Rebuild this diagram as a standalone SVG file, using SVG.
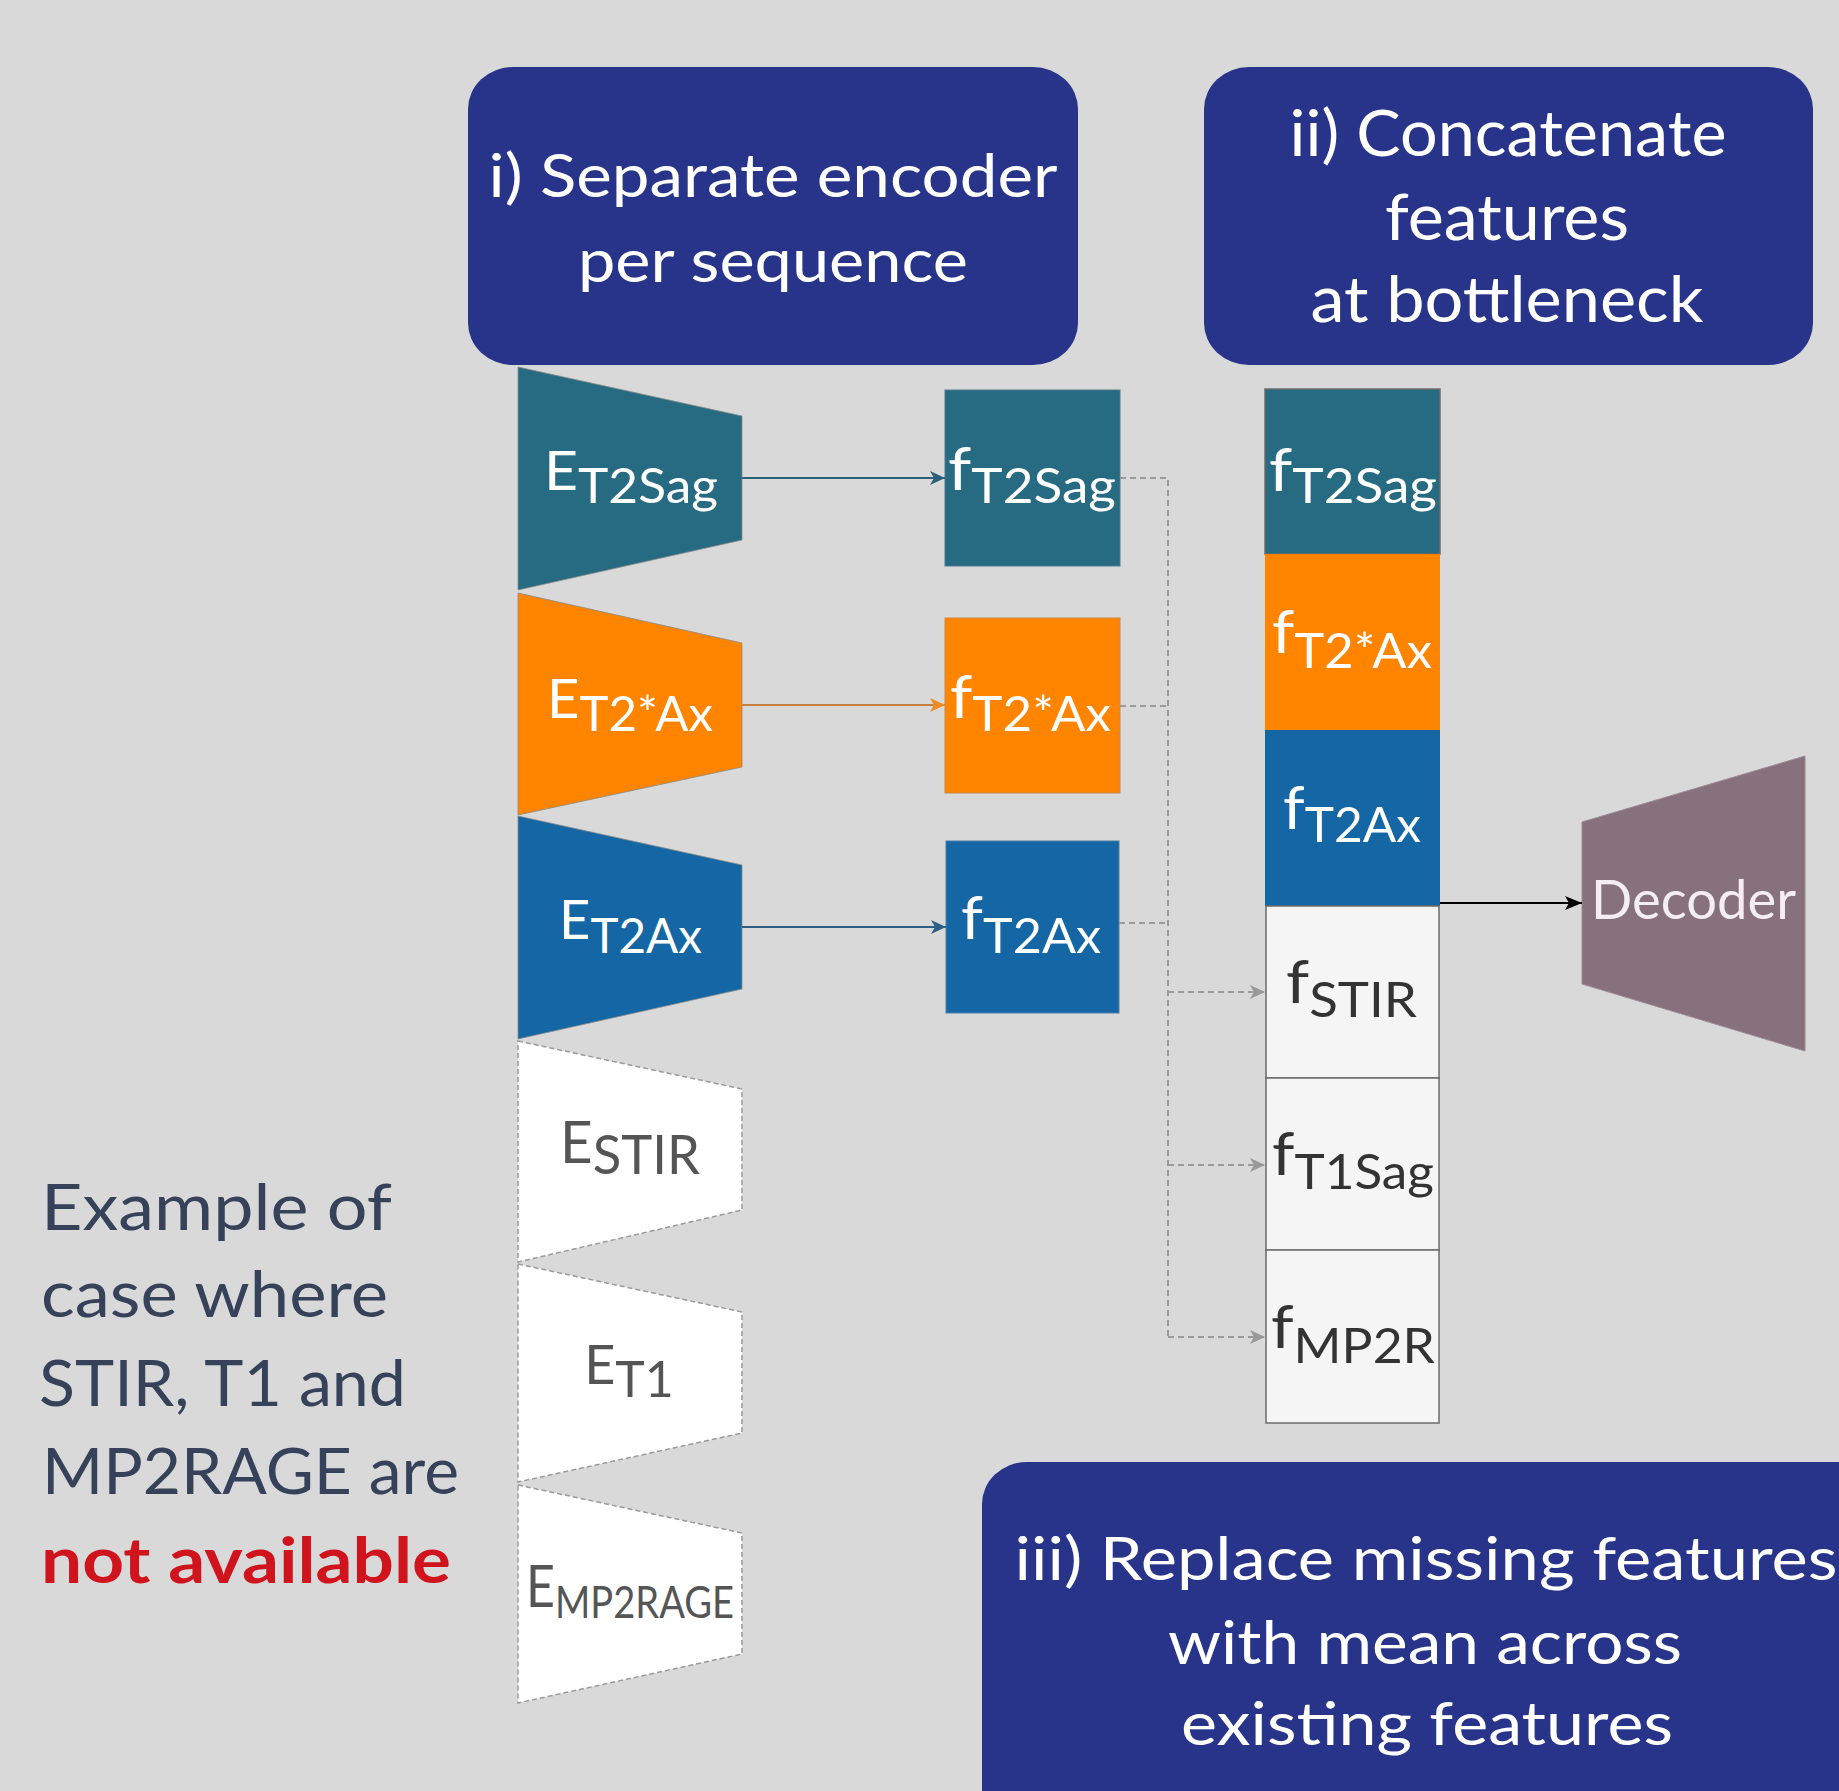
<svg xmlns="http://www.w3.org/2000/svg" width="1839" height="1791" viewBox="0 0 1839 1791">
<style>
.hdr{fill:#283489}
.ht{font-family:Lato,"Noto Sans",sans-serif;fill:#ffffff;text-anchor:middle}
.lbl{font-family:Lato,"Noto Sans",sans-serif;fill:#ffffff}
.lblg{font-family:Lato,"Noto Sans",sans-serif;fill:#555555}
.lbld{font-family:Lato,"Noto Sans",sans-serif;fill:#333333}
.side{font-family:Lato,"Noto Sans",sans-serif;fill:#36425A;font-size:64px}
.enc{stroke:#8a8a8a;stroke-width:0.8}
.miss{fill:#ffffff;stroke:#9a9a9a;stroke-width:1.5;stroke-dasharray:5 3}
.cell{stroke:#6b6b6b;stroke-width:1.5}
.dash{fill:none;stroke:#9a9a9a;stroke-width:2;stroke-dasharray:6 4}
</style>
<defs>
<marker id="aTeal" markerUnits="userSpaceOnUse" markerWidth="16" markerHeight="14" refX="15" refY="7" orient="auto"><path d="M0,0 L15,7 L0,14 L4,7 Z" fill="#2C5F78"/></marker>
<marker id="aOrange" markerUnits="userSpaceOnUse" markerWidth="16" markerHeight="14" refX="15" refY="7" orient="auto"><path d="M0,0 L15,7 L0,14 L4,7 Z" fill="#F08A20"/></marker>
<marker id="aBlue" markerUnits="userSpaceOnUse" markerWidth="16" markerHeight="14" refX="15" refY="7" orient="auto"><path d="M0,0 L15,7 L0,14 L4,7 Z" fill="#2D5E85"/></marker>
<marker id="aGray" markerUnits="userSpaceOnUse" markerWidth="16" markerHeight="14" refX="15" refY="7" orient="auto"><path d="M0,0 L15,7 L0,14 L4,7 Z" fill="#999999"/></marker>
<marker id="aBlack" markerUnits="userSpaceOnUse" markerWidth="18" markerHeight="14" refX="17" refY="7" orient="auto"><path d="M0,0 L17,7 L0,14 L4,7 Z" fill="#000000"/></marker>
</defs>
<rect x="0" y="0" width="1839" height="1791" fill="#D9D9D9"/>

<g id="header-i">
<rect class="hdr" x="468" y="67" width="610" height="298" rx="45" ry="42"/>
<text class="ht" font-size="60" x="773" y="197" textLength="569" lengthAdjust="spacingAndGlyphs">i) Separate encoder</text>
<text class="ht" font-size="60" x="773" y="282" textLength="390" lengthAdjust="spacingAndGlyphs">per sequence</text>
</g>
<g id="header-ii">
<rect class="hdr" x="1204" y="67" width="609" height="298" rx="45" ry="42"/>
<text class="ht" font-size="64" x="1508" y="156" textLength="437" lengthAdjust="spacingAndGlyphs">ii) Concatenate</text>
<text class="ht" font-size="64" x="1507" y="240" textLength="244" lengthAdjust="spacingAndGlyphs">features</text>
<text class="ht" font-size="64" x="1507" y="322" textLength="393" lengthAdjust="spacingAndGlyphs">at bottleneck</text>
</g>
<g id="header-iii">
<rect class="hdr" x="982" y="1462" width="920" height="420" rx="45" ry="42"/>
<text class="ht" font-size="60" x="1426" y="1580" textLength="823" lengthAdjust="spacingAndGlyphs">iii) Replace missing features</text>
<text class="ht" font-size="60" x="1425" y="1664" textLength="514" lengthAdjust="spacingAndGlyphs">with mean across</text>
<text class="ht" font-size="60" x="1427" y="1745" textLength="492" lengthAdjust="spacingAndGlyphs">existing features</text>
</g>

<g id="side-note">
<text class="side" x="41" y="1230" textLength="351" lengthAdjust="spacingAndGlyphs">Example of</text>
<text class="side" x="41" y="1317" textLength="347" lengthAdjust="spacingAndGlyphs">case where</text>
<text class="side" x="39" y="1406" textLength="367" lengthAdjust="spacingAndGlyphs">STIR, T1 and</text>
<text class="side" x="42" y="1494" textLength="417" lengthAdjust="spacingAndGlyphs">MP2RAGE are</text>
<text class="side" x="41" y="1583" textLength="410" lengthAdjust="spacingAndGlyphs" font-weight="bold" style="fill:#D0141D">not available</text>
</g>

<g id="enc-t2sag">
<polygon class="enc" points="518,367 742,416 742,540 518,590" fill="#266B82"/>
<text class="lbl" x="544" y="490" textLength="174" lengthAdjust="spacingAndGlyphs"><tspan font-size="55">E</tspan><tspan font-size="48" dy="13">T2Sag</tspan></text>
</g>
<g id="enc-t2starax">
<polygon class="enc" points="518,593 742,643 742,767 518,815" fill="#FF8400"/>
<text class="lbl" x="547" y="718" textLength="166" lengthAdjust="spacingAndGlyphs"><tspan font-size="55">E</tspan><tspan font-size="48" dy="13">T2*Ax</tspan></text>
</g>
<g id="enc-t2ax">
<polygon class="enc" points="518,816 742,865 742,989 518,1039" fill="#1467A4"/>
<text class="lbl" x="559" y="939" textLength="143" lengthAdjust="spacingAndGlyphs"><tspan font-size="55">E</tspan><tspan font-size="48" dy="14">T2Ax</tspan></text>
</g>
<g id="enc-stir">
<polygon class="miss" points="518,1041 742,1089 742,1210 518,1262"/>
<text class="lblg" x="560" y="1163" textLength="140" lengthAdjust="spacingAndGlyphs"><tspan font-size="58">E</tspan><tspan font-size="54" dy="11">STIR</tspan></text>
</g>
<g id="enc-t1">
<polygon class="miss" points="518,1264 742,1312 742,1433 518,1482"/>
<text class="lblg" x="629" y="1384" text-anchor="middle"><tspan font-size="54">E</tspan><tspan font-size="50" dy="13">T1</tspan></text>
</g>
<g id="enc-mp2rage">
<polygon class="miss" points="518,1485 742,1533 742,1654 518,1703"/>
<text class="lblg" x="526" y="1607" textLength="208" lengthAdjust="spacingAndGlyphs"><tspan font-size="58">E</tspan><tspan font-size="44" dy="11">MP2RAGE</tspan></text>
</g>

<g id="feat-t2sag">
<rect x="945" y="390" width="175" height="176" fill="#266B82" stroke="#4a7d90" stroke-width="1"/>
<text class="lbl" x="948" y="490" textLength="168" lengthAdjust="spacingAndGlyphs"><tspan font-size="60">f</tspan><tspan font-size="48" dy="13">T2Sag</tspan></text>
</g>
<g id="feat-t2starax">
<rect x="945" y="618" width="175" height="175" fill="#FF8400" stroke="#c98a4a" stroke-width="1"/>
<text class="lbl" x="950" y="718" textLength="161" lengthAdjust="spacingAndGlyphs"><tspan font-size="60">f</tspan><tspan font-size="48" dy="13">T2*Ax</tspan></text>
</g>
<g id="feat-t2ax">
<rect x="946" y="841" width="173" height="172" fill="#1467A4" stroke="#4a7fa8" stroke-width="1"/>
<text class="lbl" x="961" y="939" textLength="140" lengthAdjust="spacingAndGlyphs"><tspan font-size="60">f</tspan><tspan font-size="48" dy="14">T2Ax</tspan></text>
</g>

<g id="concat-t2sag">
<rect class="cell" x="1265" y="389" width="175" height="165" fill="#266B82" stroke="#3d6f80"/>
<text class="lbl" x="1269" y="491" textLength="168" lengthAdjust="spacingAndGlyphs"><tspan font-size="60">f</tspan><tspan font-size="48" dy="12">T2Sag</tspan></text>
</g>
<g id="concat-t2starax">
<rect x="1265" y="554" width="175" height="176" fill="#FF8400"/>
<text class="lbl" x="1272" y="653" textLength="160" lengthAdjust="spacingAndGlyphs"><tspan font-size="60">f</tspan><tspan font-size="48" dy="15">T2*Ax</tspan></text>
</g>
<g id="concat-t2ax">
<rect x="1265" y="730" width="175" height="176" fill="#1467A4"/>
<text class="lbl" x="1283" y="829" textLength="138" lengthAdjust="spacingAndGlyphs"><tspan font-size="60">f</tspan><tspan font-size="48" dy="13">T2Ax</tspan></text>
</g>
<g id="concat-stir">
<rect class="cell" x="1266" y="906" width="173" height="172" fill="#F5F5F5"/>
<text class="lbld" x="1286" y="1003" textLength="131" lengthAdjust="spacingAndGlyphs"><tspan font-size="60">f</tspan><tspan font-size="48" dy="14">STIR</tspan></text>
</g>
<g id="concat-t1sag">
<rect class="cell" x="1266" y="1078" width="173" height="172" fill="#F5F5F5"/>
<text class="lbld" x="1272" y="1175" textLength="162" lengthAdjust="spacingAndGlyphs"><tspan font-size="60">f</tspan><tspan font-size="48" dy="14">T1Sag</tspan></text>
</g>
<g id="concat-mp2r">
<rect class="cell" x="1266" y="1250" width="173" height="173" fill="#F5F5F5"/>
<text class="lbld" x="1271" y="1348" textLength="164" lengthAdjust="spacingAndGlyphs"><tspan font-size="60">f</tspan><tspan font-size="48" dy="15">MP2R</tspan></text>
</g>

<g id="decoder">
<polygon points="1582,822 1805,756 1805,1051 1582,984" fill="#86717D" stroke="#9a8a94" stroke-width="1"/>
<text x="1591" y="919" font-family="Lato,'Noto Sans',sans-serif" font-size="54" fill="#F4EEF2" textLength="205" lengthAdjust="spacingAndGlyphs">Decoder</text>
</g>

<g id="connectors">
<line x1="742" y1="478" x2="945" y2="478" stroke="#2C5F78" stroke-width="2" marker-end="url(#aTeal)"/>
<line x1="742" y1="705" x2="945" y2="705" stroke="#C8803F" stroke-width="2" marker-end="url(#aOrange)"/>
<line x1="742" y1="927" x2="946" y2="927" stroke="#2D5E85" stroke-width="2" marker-end="url(#aBlue)"/>
<polyline class="dash" points="1120,478 1168,478 1168,1337"/>
<line class="dash" x1="1120" y1="706" x2="1168" y2="706"/>
<line class="dash" x1="1119" y1="923" x2="1168" y2="923"/>
<line class="dash" x1="1168" y1="992" x2="1265" y2="992" marker-end="url(#aGray)"/>
<line class="dash" x1="1168" y1="1165" x2="1265" y2="1165" marker-end="url(#aGray)"/>
<line class="dash" x1="1168" y1="1337" x2="1265" y2="1337" marker-end="url(#aGray)"/>
<line x1="1440" y1="903" x2="1582" y2="903" stroke="#000000" stroke-width="2" marker-end="url(#aBlack)"/>
</g>
</svg>
